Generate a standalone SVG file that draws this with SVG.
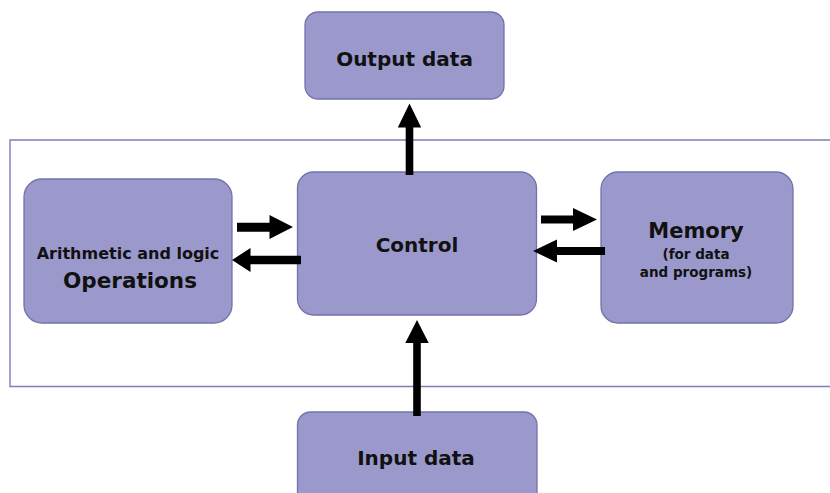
<svg xmlns="http://www.w3.org/2000/svg" width="830" height="493" viewBox="0 0 830 493">
  <style>
    .box { fill: #9b99cc; stroke: #7472ab; stroke-width: 1.3; }
    .frame { fill: none; stroke: #7f7db4; stroke-width: 1.4; }
    .arrow { fill: #000000; stroke: none; }
    text { font-family: "DejaVu Sans", "Liberation Sans", sans-serif; font-weight: bold; fill: #111111; text-anchor: middle; }
  </style>
  <rect width="830" height="493" fill="#ffffff"/>

  <!-- processor boundary, open on the right -->
  <path class="frame" d="M840,140 H10 V386.5 H840"/>

  <g id="output">
    <rect class="box" x="305" y="12" width="199" height="87" rx="13"/>
    <text x="404.5" y="66" font-size="20">Output data</text>
  </g>

  <g id="alu">
    <rect class="box" x="24" y="179" width="208" height="144" rx="18"/>
    <text x="128" y="259" font-size="16">Arithmetic and logic</text>
    <text x="130" y="288" font-size="21.5">Operations</text>
  </g>

  <g id="control">
    <rect class="box" x="297.5" y="172" width="239" height="143" rx="16"/>
    <text x="417" y="252" font-size="20">Control</text>
  </g>

  <g id="memory">
    <rect class="box" x="601" y="172" width="192" height="151" rx="17"/>
    <text x="696" y="238" font-size="21">Memory</text>
    <text x="696" y="259" font-size="13.5">(for data</text>
    <text x="696" y="277" font-size="13.5">and programs)</text>
  </g>

  <g id="input">
    <rect class="box" x="297.5" y="412" width="239.5" height="95" rx="13"/>
    <text x="416" y="465" font-size="20">Input data</text>
  </g>

  <g id="connectors">
    <!-- control to output -->
    <path class="arrow" d="M405.7,175 V127.5 H397.8 L409.5,103.5 L421.2,127.5 H413.3 V175 Z"/>
    <!-- input to control -->
    <path class="arrow" d="M413.2,416 V343 H405.3 L417,320 L428.7,343 H420.8 V416 Z"/>
    <!-- control to ALU and back -->
    <path class="arrow" d="M237,222.7 H269.5 V215 L293,227 L269.5,239 V231.7 H237 Z"/>
    <path class="arrow" d="M301,255.8 H250.5 V248 L232,260 L250.5,272 V264.2 H301 Z"/>
    <!-- control to memory and back -->
    <path class="arrow" d="M541,215.5 H573 V208 L597,219.5 L573,231 V223.5 H541 Z"/>
    <path class="arrow" d="M605,247 H557 V239.5 L533,251 L557,262.5 V255 H605 Z"/>
  </g>
</svg>
